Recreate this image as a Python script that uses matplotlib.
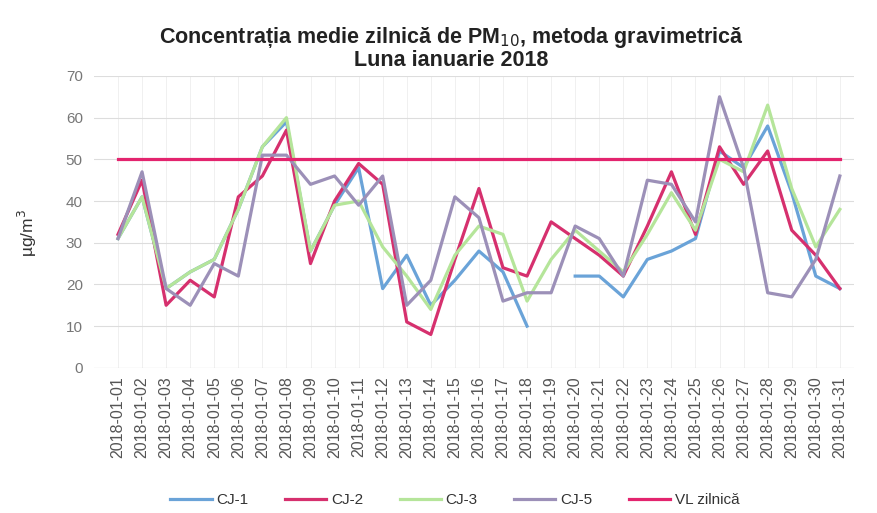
import matplotlib
matplotlib.use("Agg")
import matplotlib.pyplot as plt
import numpy as np

plt.rcParams['font.family'] = ['Liberation Sans', 'DejaVu Sans']

days = ["2018-01-%02d" % d for d in range(1, 32)]

nan = np.nan
cj1 = [31, 41, 19, 23, 26, 38, 53, 59, 28, 39, 48, 19, 27, 15, 21, 28, 23, 10, nan, 22, 22, 17, 26, 28, 31, 52, 48, 58, 42, 22, 19]
cj2 = [32, 45, 15, 21, 17, 41, 46, 57, 25, 40, 49, 44, 11, 8, 26, 43, 24, 22, 35, 31, 27, 22, 34, 47, 32, 53, 44, 52, 33, 27, 19]
cj3 = [31, 41, 19, 23, 26, 38, 53, 60, 28, 39, 40, 29, 22, 14, 27, 34, 32, 16, 26, 33, 28, 23, 32, 42, 33, 50, 47, 63, 43, 29, 38]
cj5 = [31, 47, 19, 15, 25, 22, 51, 51, 44, 46, 39, 46, 15, 21, 41, 36, 16, 18, 18, 34, 31, 22, 45, 44, 35, 65, 48, 18, 17, 26, 46]
vl = [50] * 31

series = [("CJ-1", cj1, "#6aa3d8"),
          ("CJ-2", cj2, "#d6306e"),
          ("CJ-3", cj3, "#b5e59a"),
          ("CJ-5", cj5, "#9c90b8")]

fig = plt.figure(figsize=(8.78, 5.13), dpi=100)
ax = fig.add_axes([0.107, 0.283, 0.866, 0.569])

x = np.arange(len(days))
for name, vals, col in series:
    ax.plot(x, vals, color=col, lw=2.3, label=name)
ax.plot(x, vl, color="#e3246e", lw=2.3, label="VL zilnică")

ax.set_ylim(0, 70)
ax.set_xlim(-1, 30.6)
ax.set_yticks(range(0, 71, 10))
ax.set_xticks(x)
ax.set_xticklabels(days, rotation=90, fontsize=11.5, color="#555555")
ax.tick_params(axis='y', labelsize=11, colors="#777777", length=0, pad=8)
ax.tick_params(axis='x', length=0, pad=6)
ax.grid(axis='y', color="#dddddd", lw=0.8)
ax.grid(axis='x', color="#eeeeee", lw=0.6)
ax.set_axisbelow(True)
for s in ax.spines.values():
    s.set_visible(False)
ax.axhline(0, color="#cccccc", lw=0.8)

ax.set_ylabel("µg/m$^3$", fontsize=12.5, color="#333333")
ax.yaxis.set_label_coords(-0.072, 0.46)

fig.text(0.514, 0.906, "Concentrația medie zilnică de PM$_{10}$, metoda gravimetrică\nLuna ianuarie 2018",
         ha="center", va="center", fontsize=15.5, fontweight="bold", color="#222222", linespacing=1.0)

fig.legend(loc="center", bbox_to_anchor=(0.518, 0.025), ncol=5, frameon=False,
           fontsize=11, handlelength=2.7, handletextpad=0.3, columnspacing=2.4,
           labelcolor="#333333")

fig.savefig("out.png", dpi=100)
